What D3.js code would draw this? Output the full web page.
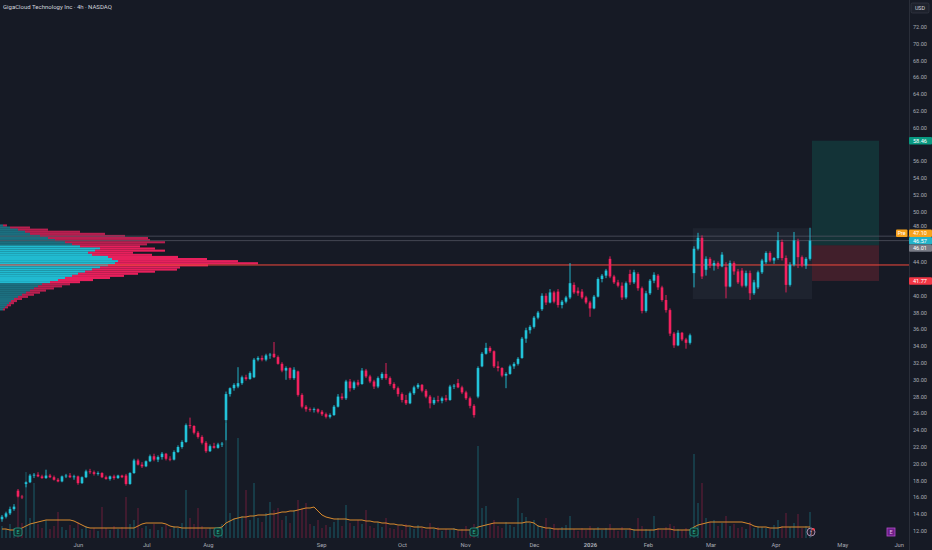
<!DOCTYPE html>
<html><head><meta charset="utf-8">
<script src="https://cdn.jsdelivr.net/npm/d3@7"></script>
<style>html,body{margin:0;padding:0;background:#161a25;overflow:hidden}</style>
</head><body><svg id="c" width="932" height="550"></svg>
<script>
const title = "GigaCloud Technology Inc · 4h · NASDAQ";
// [open, high, low, close] per 4h bar
const candles = [
[13.4,13.9,13.1,13.7],[13.7,14.3,13.5,14.1],[14.1,14.9,13.9,14.6],[14.6,15.2,14.4,14.9],[16.8,17.0,16.0,16.1],
[16.1,16.3,15.8,16.0],[17.6,17.9,17.2,17.8],[17.8,18.8,17.7,18.6],[18.6,18.9,18.3,18.7],[18.7,19.0,18.4,18.5],
[18.5,18.7,18.2,18.3],[18.3,19.3,18.2,18.6],[18.6,18.8,18.3,18.4],[18.4,18.6,18.0,18.1],[18.1,18.3,17.8,17.9],
[17.9,18.6,17.8,18.5],[18.5,18.8,18.3,18.6],[18.6,18.9,18.3,18.4],[18.4,18.7,18.1,18.5],[18.5,18.6,17.5,17.7],
[17.7,18.5,17.6,18.4],[18.4,19.3,18.3,19.1],[19.1,19.4,18.8,19.0],[19.0,19.2,18.6,18.8],[18.8,19.1,18.6,18.9],
[18.9,19.0,18.3,18.4],[18.4,18.6,18.1,18.2],[18.2,18.6,18.0,18.5],[18.5,18.7,18.1,18.3],[18.3,18.7,18.2,18.6],
[18.6,18.7,18.3,18.4],[18.6,18.8,17.4,17.6],[17.6,19.0,17.5,18.9],[18.9,20.6,18.8,20.4],[20.4,20.6,19.8,19.9],
[19.9,20.2,19.5,19.7],[19.7,20.4,19.6,20.3],[20.3,21.1,20.2,20.9],[20.9,21.2,20.3,20.5],[20.5,21.0,20.2,20.8],
[20.8,21.4,20.5,21.2],[21.2,21.3,20.4,20.6],[20.6,20.9,20.3,20.5],[20.5,21.6,20.4,21.4],[21.4,22.2,21.3,22.0],
[22.0,22.8,21.8,22.6],[22.6,24.8,22.5,24.6],[24.6,25.5,24.2,24.5],[24.5,24.6,23.5,23.7],[23.7,23.9,23.0,23.2],
[23.2,23.4,22.3,22.5],[22.5,22.7,21.3,21.5],[21.5,22.3,21.4,22.1],[22.1,22.5,21.8,21.9],[21.9,22.5,21.8,22.3],
[22.3,22.6,22.0,22.4],[25.2,28.6,22.8,28.3],[28.3,29.1,28.0,29.0],[29.0,29.6,28.7,29.4],[29.2,31.5,29.0,29.6],
[29.6,30.5,29.4,30.3],[30.3,30.6,29.9,30.1],[30.1,31.0,30.0,30.8],[30.3,32.6,30.2,32.4],[32.4,32.8,32.2,32.6],
[32.6,32.9,32.2,32.4],[32.4,33.1,32.2,32.9],[32.9,33.2,32.5,33.0],[33.1,34.5,32.6,32.7],[32.7,32.9,31.8,31.9],
[31.9,32.1,30.9,31.1],[31.1,31.6,30.0,31.4],[31.4,31.5,30.0,30.2],[30.2,31.5,30.0,31.2],[31.0,31.1,28.0,28.2],
[28.2,28.4,26.6,26.8],[26.8,27.0,26.2,26.5],[26.5,26.7,26.2,26.4],[26.4,26.7,26.1,26.5],[26.5,26.6,26.0,26.2],
[26.2,26.4,25.7,25.9],[25.9,26.1,25.4,25.6],[25.6,26.0,25.4,25.8],[25.8,27.0,25.7,26.8],[26.8,28.3,26.7,28.0],
[28.0,28.4,27.6,27.8],[27.8,30.0,27.6,29.8],[29.8,30.1,28.6,29.0],[29.0,29.9,28.8,29.7],[29.7,30.0,29.2,29.4],
[29.5,31.4,29.4,31.1],[31.1,31.3,30.2,30.4],[30.4,30.6,29.6,29.8],[29.8,30.0,28.9,29.2],[29.2,30.4,29.0,30.2],
[30.2,30.9,30.0,30.7],[30.7,32.0,30.0,30.2],[30.2,30.4,29.3,29.5],[29.5,29.7,28.8,29.0],[29.0,29.2,28.0,28.3],
[28.3,28.5,27.3,27.6],[27.6,28.2,27.0,27.2],[27.2,28.6,27.1,28.4],[28.4,29.3,28.2,29.1],[29.1,29.6,28.9,29.4],
[29.4,29.5,28.5,28.7],[28.7,28.9,27.8,28.0],[28.0,28.2,26.6,27.2],[27.2,27.9,27.0,27.6],[27.6,28.1,27.3,27.5],
[27.5,28.0,27.2,27.8],[27.8,28.2,27.4,27.6],[27.6,29.4,27.5,29.2],[29.2,29.5,28.9,29.3],[29.6,30.1,29.0,29.1],
[29.1,29.3,28.3,28.5],[28.5,28.7,27.6,27.8],[27.8,28.0,26.6,26.9],[26.9,27.1,25.5,25.8],[28.0,31.6,27.8,31.4],
[31.6,33.3,31.5,33.1],[33.1,34.4,33.0,33.8],[33.8,34.0,33.2,33.4],[33.4,33.5,31.4,31.6],[31.6,32.2,31.0,31.4],
[31.4,31.5,30.3,30.5],[30.5,30.9,29.0,30.7],[30.7,31.8,30.6,31.6],[31.6,32.1,31.3,31.9],[31.9,32.7,31.7,32.5],
[32.6,35.1,32.5,34.9],[34.9,36.2,34.4,35.9],[35.9,36.5,35.5,36.3],[36.3,37.6,36.1,37.4],[37.4,38.2,37.2,38.0],
[38.4,40.3,38.2,40.0],[40.0,40.3,38.9,39.2],[39.2,40.8,39.1,40.4],[40.4,40.6,39.1,39.3],[40.5,40.8,38.6,38.9],
[38.9,39.5,38.5,39.3],[39.3,40.0,39.1,39.8],[39.8,43.9,39.6,41.5],[41.3,41.6,40.2,40.4],[40.6,41.0,40.0,40.3],
[40.5,40.8,39.6,39.8],[39.8,40.0,39.0,39.2],[39.2,39.4,37.5,38.5],[38.5,40.1,38.4,39.9],[39.9,42.2,39.8,42.0],
[42.0,42.6,41.6,42.4],[42.4,43.2,42.1,43.0],[44.4,44.7,42.1,42.3],[42.3,42.5,41.4,41.6],[41.6,41.9,41.0,41.2],
[41.2,41.6,39.5,39.8],[39.8,41.7,39.6,41.5],[42.6,43.1,41.3,41.6],[41.6,43.1,41.4,42.8],[42.6,42.8,40.6,40.9],
[40.9,41.1,37.9,38.2],[38.2,40.6,38.0,40.3],[40.3,42.0,40.1,41.8],[41.8,42.8,41.5,42.5],[42.4,42.6,40.7,41.0],
[41.0,41.2,39.3,39.5],[39.5,40.1,38.0,38.3],[38.3,38.5,35.2,35.5],[35.5,35.7,33.8,34.1],[34.1,35.9,34.0,35.6],
[35.6,35.7,34.6,34.8],[34.8,35.0,33.7,34.4],[34.4,35.5,34.2,35.3],[42.7,45.9,41.0,45.6],[45.6,47.5,45.4,46.9],
[46.9,47.2,42.0,42.3],[43.1,44.7,42.4,44.4],[44.4,44.6,43.3,43.6],[43.6,44.2,43.0,43.9],[43.9,44.1,43.2,43.5],
[43.5,45.2,43.4,44.9],[43.4,44.0,39.7,41.1],[41.1,44.2,41.0,43.9],[43.9,44.1,42.5,42.9],[42.9,43.2,41.4,41.6],
[43.0,43.3,41.0,41.2],[41.2,43.0,41.0,42.7],[42.7,43.0,39.5,40.3],[40.3,41.9,40.1,41.6],[41.0,43.0,40.8,42.8],
[42.8,44.4,42.6,44.2],[44.0,45.3,43.8,45.1],[45.1,45.3,44.0,44.2],[44.2,44.6,43.8,44.5],[44.5,47.6,44.3,46.6],
[46.4,46.7,44.2,44.5],[44.5,44.8,40.4,41.3],[41.3,44.0,41.1,43.7],[43.7,47.6,43.5,46.6],[46.5,46.8,43.3,44.6],
[44.6,44.8,43.4,43.6],[43.6,44.6,43.2,44.4],[44.4,48.1,44.2,46.57]
];
const volumes = [
12,9,14,10,43,15,66,20,55,14, 10,18,9,12,26,11,8,13,10,16, 9,12,8,10,7,31,10,8,12,9,
11,41,14,18,30,10,12,9,14,8, 11,13,9,12,10,15,48,20,14,30, 12,9,10,8,11,14,115,25,20,100,
22,48,18,55,20,16,25,36,28,30, 18,22,15,28,38,30,35,14,12,18, 10,13,11,16,20,12,33,15,12,18,
14,28,12,10,16,11,20,10,9,12, 8,14,11,9,13,10,8,15,9,11, 7,9,8,10,7,9,12,8,14,92,
30,32,14,18,12,10,16,13,11,40, 25,21,15,18,13,12,20,10,14,9, 11,13,22,9,7,10,8,12,9,11,
8,10,14,9,7,11,8,10,9,20, 12,9,8,22,10,8,11,14,12,9, 8,10,9,84,35,55,20,16,18,12,
15,22,12,14,10,11,9,16,10,12, 11,10,9,13,18,12,25,11,15,24, 10,12,26
];
const volumeMA = [
9,9,8,8,8,10,12,14,15,16, 17,18,18,18,18,18,18,18,17,15, 13,11,10,10,10,10,10,10,10,10,
10,10,10,10,12,14,15,15,15,15, 15,14,12,11,11,10,10,10,10,10, 10,10,10,10,10,11,15,17,19,20,
21,21,22,22,23,23,23,24,24,25, 26,26,27,27,28,29,30,30,31,27, 23,21,20,19,19,19,19,18,18,18,
18,17,17,16,16,15,15,14,14,13, 13,12,12,11,11,11,10,10,10,9, 9,9,9,9,8,8,8,8,9,11,
12,13,14,15,15,15,15,15,15,15, 15,16,16,15,12,11,10,10,9,9, 9,9,9,9,9,9,9,9,9,9,
9,9,9,9,9,9,9,9,8,8, 8,8,8,8,9,9,9,9,8,8, 8,8,8,11,13,14,15,16,16,16,
16,16,16,16,16,16,15,14,12,11, 11,11,10,10,10,11,11,11,11,11, 11,11,11
];
const monthLabels = ["Jun","Jul","Aug","Sep","Oct","Nov","Dec","2026","Feb","Mar","Apr","May","Jun"];
const monthBarIdx = [19.1,36.2,51.6,79.9,100.1,115.9,133.1,147.1,161.6,177.25,193.5,210.2,224.3];
const priceTicks = d3.range(12, 72.01, 2);
// visible-range volume profile, rows of 0.25 USD (lower edge)
const profilePrice = [48.25,48.0,47.75,47.5,47.25,47.0,46.75,46.5,46.25,46.0,45.75,45.5,45.25,45.0,44.75,44.5,44.25,44.0,43.75,43.5,43.25,43.0,42.75,42.5,42.25,42.0,41.75,41.5,41.25,41.0,40.75,40.5,40.25,40.0,39.75,39.5,39.25,39.0,38.75,38.5,38.25];
const profileUp =   [3,10,18,25,30,40,48,55,65,72,80,100,95,88,92,108,112,118,115,108,100,92,85,78,72,65,58,50,42,38,34,30,26,22,18,14,11,9,7,5,3];
const profileDown = [4,20,30,55,75,85,100,95,100,75,60,55,70,45,60,70,95,120,143,100,80,85,70,60,52,45,35,30,28,24,20,16,14,12,10,8,6,5,4,3,2];
const valueArea = [41.5, 45.75];
const pocPrice = 43.67;
const prePrice = 47.10, lastPrice = 46.57;
const entryPrice = 46.01, targetPrice = 58.46, stopPrice = 41.77;
const positionBars = [202.5, 219.25];
const rangeBars = [172.7, 202.5], rangePrices = [39.6, 48.05];
const earningsBars = [4, 54, 118, 173], futureEarningsBar = 222.25, eventBar = 202.25;

const W = 932, H = 550, axisX = 909, plotBottom = 538;
const UP = "#22c3d9", DOWN = "#f2215f";
const svg = d3.select("#c");
const font = "Roboto, 'Noto Sans', sans-serif";
svg.append("rect").attr("width", W).attr("height", H).attr("fill", "#161a25");

const x = d3.scaleLinear().domain([0, 225]).range([2, 902]);
const y = d3.scaleLinear().domain([12, 72]).range([531, 27]);
const yVol = d3.scaleLinear().domain([0, 100]).range([plotBottom, plotBottom - 100]);
const xProf = d3.scaleLinear().domain([0, d3.max(profileUp.map((u, i) => u + profileDown[i]))]).range([0, 258]);

svg.append("defs").append("clipPath").attr("id", "plot").append("rect")
  .attr("x", 0).attr("y", 0).attr("width", axisX).attr("height", plotBottom);
const g = svg.append("g").attr("clip-path", "url(#plot)");

// volume bars
g.append("g").selectAll("rect").data(candles).join("rect")
  .attr("x", (d, i) => x(i) - 0.6).attr("width", 1.2)
  .attr("y", (d, i) => yVol(volumes[i])).attr("height", (d, i) => plotBottom - yVol(volumes[i]))
  .attr("fill", d => d[3] >= d[0] ? UP : DOWN).attr("opacity", 0.32);
// volume MA
g.append("path").datum(volumeMA)
  .attr("d", d3.line().x((d, i) => x(i)).y(d => yVol(d)))
  .attr("fill", "none").attr("stroke", "#d98a2e").attr("stroke-width", 1);

// range box
g.append("rect").attr("x", x(rangeBars[0])).attr("width", x(rangeBars[1]) - x(rangeBars[0]))
  .attr("y", y(rangePrices[1])).attr("height", y(rangePrices[0]) - y(rangePrices[1]))
  .attr("fill", "rgba(140,160,190,0.07)");

// position tool
g.append("rect").attr("x", x(positionBars[0])).attr("width", x(positionBars[1]) - x(positionBars[0]))
  .attr("y", y(targetPrice)).attr("height", y(entryPrice) - y(targetPrice))
  .attr("fill", "#089981").attr("opacity", 0.2);
g.append("rect").attr("x", x(positionBars[0])).attr("width", x(positionBars[1]) - x(positionBars[0]))
  .attr("y", y(entryPrice)).attr("height", y(stopPrice) - y(entryPrice))
  .attr("fill", "#f23645").attr("opacity", 0.2);

// volume profile
const prof = g.append("g");
profilePrice.forEach((p, i) => {
  const inVA = p >= valueArea[0] && p <= valueArea[1];
  const yt = y(p + 0.25), hh = y(p) - y(p + 0.25);
  prof.append("rect").attr("x", 0).attr("y", yt).attr("height", hh).attr("width", xProf(profileUp[i]))
    .attr("fill", UP).attr("opacity", inVA ? 0.95 : 0.5);
  prof.append("rect").attr("x", xProf(profileUp[i])).attr("y", yt).attr("height", hh)
    .attr("width", xProf(profileDown[i])).attr("fill", DOWN).attr("opacity", inVA ? 0.95 : 0.75);
});

// horizontal lines
[prePrice, lastPrice].forEach(p => g.append("line").attr("x1", 0).attr("x2", axisX)
  .attr("y1", y(p)).attr("y2", y(p)).attr("stroke", "#4f5360").attr("stroke-width", 0.8));
g.append("line").attr("x1", 0).attr("x2", axisX).attr("y1", y(pocPrice)).attr("y2", y(pocPrice))
  .attr("stroke", "#f2493c").attr("stroke-width", 1);

// candles
const cg = g.append("g");
cg.selectAll("line").data(candles).join("line")
  .attr("x1", (d, i) => x(i)).attr("x2", (d, i) => x(i))
  .attr("y1", d => y(d[1])).attr("y2", d => y(d[2]))
  .attr("stroke", d => d[3] >= d[0] ? UP : DOWN).attr("stroke-width", 0.9);
cg.selectAll("rect").data(candles).join("rect")
  .attr("x", (d, i) => x(i) - 1.3).attr("width", 2.6)
  .attr("y", d => y(Math.max(d[0], d[3])))
  .attr("height", d => Math.max(0.8, Math.abs(y(d[0]) - y(d[3]))))
  .attr("fill", d => d[3] >= d[0] ? UP : DOWN);

// event markers
const mk = svg.append("g");
earningsBars.forEach(b => {
  mk.append("rect").attr("x", x(b) - 4).attr("y", 528).attr("width", 8).attr("height", 8).attr("rx", 2)
    .attr("fill", "#112e2c").attr("stroke", "#1f9e86").attr("stroke-width", 0.8);
  mk.append("text").attr("x", x(b)).attr("y", 534.2).attr("text-anchor", "middle")
    .attr("font-size", 5.5).attr("font-family", font).attr("fill", "#26b39a").text("E");
});
mk.append("circle").attr("cx", x(eventBar)).attr("cy", 532).attr("r", 4)
  .attr("fill", "#2a2030").attr("stroke", "#c8a9cc").attr("stroke-width", 0.8);
mk.append("circle").attr("cx", x(eventBar) + 2.5).attr("cy", 529.3).attr("r", 1.2).attr("fill", "#f23645");
mk.append("text").attr("x", x(eventBar)).attr("y", 534).attr("text-anchor", "middle")
  .attr("font-size", 5).attr("font-family", font).attr("fill", "#e6d6e8").text("ƒ");
mk.append("rect").attr("x", x(futureEarningsBar) - 4).attr("y", 528).attr("width", 8).attr("height", 8)
  .attr("fill", "#6d1f86").attr("stroke", "#b54fd0").attr("stroke-width", 0.8);
mk.append("text").attr("x", x(futureEarningsBar)).attr("y", 534.2).attr("text-anchor", "middle")
  .attr("font-size", 5.5).attr("font-family", font).attr("fill", "#e3b3f0").text("E");

// price badges with overlap resolution
const badges = [
  {v: targetPrice, bg: "#089981"}, {v: prePrice, bg: "#f7a21b", pre: true},
  {v: lastPrice, bg: "#22b3c9"}, {v: entryPrice, bg: "#787b86"}, {v: stopPrice, bg: "#f23645"}
].map(b => ({...b, y0: y(b.v)}));
(function resolve(items, gap) {
  items.sort((a, b) => a.y0 - b.y0);
  const clusters = [];
  items.forEach(it => {
    const c = clusters[clusters.length - 1];
    if (c) {
      const bottom = c.center - (c.items.length - 1) * gap / 2 + (c.items.length - 1) * gap;
      if (it.y0 - bottom < gap) { c.items.push(it); c.center = d3.mean(c.items, d => d.y0); return; }
    }
    clusters.push({items: [it], center: it.y0});
  });
  clusters.forEach(c => { const top = c.center - (c.items.length - 1) * gap / 2; c.items.forEach((it, k) => it.y = top + k * gap); });
})(badges, 7.4);

// axes
svg.append("line").attr("x1", axisX + 0.5).attr("x2", axisX + 0.5).attr("y1", 0).attr("y2", H)
  .attr("stroke", "#2a2e39").attr("stroke-width", 1);
// tick labels sitting under a price badge are not drawn (as the platform does)
const visibleTicks = priceTicks.filter(t => badges.every(b => Math.abs(y(t) - b.y) > 4.5));
const ya = svg.append("g");
ya.selectAll("text").data(visibleTicks).join("text")
  .attr("x", 920).attr("y", d => {
    const near = badges.find(b => Math.abs(y(d) - b.y) < 7.4);
    return (near ? y(d) - (7.4 - Math.abs(y(d) - near.y)) * Math.sign(near.y - y(d)) : y(d)) + 2;
  }).attr("text-anchor", "middle")
  .attr("font-size", 5.6).attr("font-family", font).attr("fill", "#a7aab3")
  .text(d => d3.format(".2f")(d));
const xa = svg.append("g");
xa.selectAll("text").data(monthLabels).join("text")
  .attr("x", (d, i) => x(monthBarIdx[i])).attr("y", 546.5).attr("text-anchor", "middle")
  .attr("font-size", 5.8).attr("font-family", font).attr("fill", "#a7aab3")
  .attr("font-weight", d => d === "2026" ? 700 : 400).text(d => d);

// USD box
svg.append("rect").attr("x", 911).attr("y", 3).attr("width", 18).attr("height", 10).attr("rx", 1.5)
  .attr("fill", "#1e222d").attr("stroke", "#3a3e4a").attr("stroke-width", 0.6);
svg.append("text").attr("x", 920).attr("y", 10).attr("text-anchor", "middle")
  .attr("font-size", 5.4).attr("font-family", font).attr("fill", "#d1d4dc").text("USD");

const bg = svg.append("g");
badges.forEach(b => {
  bg.append("rect").attr("x", 909).attr("y", b.y - 3.7).attr("width", 23).attr("height", 7.4).attr("rx", 1)
    .attr("fill", b.bg);
  bg.append("text").attr("x", 920).attr("y", b.y + 2).attr("text-anchor", "middle")
    .attr("font-size", 5.6).attr("font-family", font).attr("fill", "#ffffff").text(d3.format(".2f")(b.v));
  if (b.pre) {
    bg.append("rect").attr("x", 896).attr("y", b.y - 3.7).attr("width", 11.5).attr("height", 7.4).attr("rx", 1)
      .attr("fill", b.bg);
    bg.append("text").attr("x", 901.7).attr("y", b.y + 2).attr("text-anchor", "middle")
      .attr("font-size", 5.2).attr("font-family", font).attr("fill", "#ffffff").text("Pre");
  }
});

// title
svg.append("text").attr("x", 3).attr("y", 9).attr("font-size", 6.0).attr("font-family", font)
  .attr("fill", "#d1d4dc").text(title);
</script></body></html>
